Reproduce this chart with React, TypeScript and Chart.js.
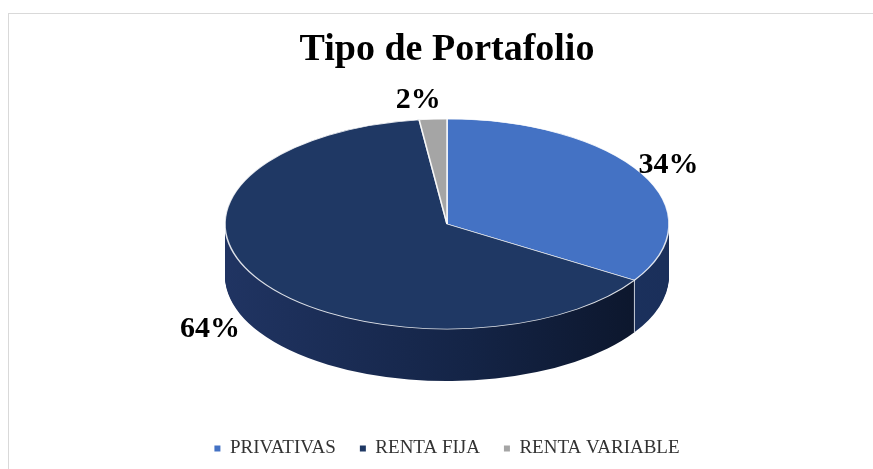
import React, { useEffect, useRef } from 'react';
import { Chart, registerables } from 'chart.js';

Chart.register(...registerables);

// ---- data ----
const categories = ['PRIVATIVAS', 'RENTA FIJA', 'RENTA VARIABLE'];
const values = [34, 64, 2];
const chartTitle = 'Tipo de Portafolio';

// ---- styles ----
const topColors = ['#4472c4', '#1f3864', '#a5a5a5'];
const sideColorStops = [
  ['#2a4880', '#1f3766', '#1a2f5a'],
  ['#203462', '#142446', '#0b1428'],
  ['#8a8a8a', '#7a7a7a', '#6a6a6a'],
];
const TILT = 0.473;
const DEPTH = 52;
const LABEL_SHIFT_X = -12;
const SERIF = "'Liberation Serif', 'DejaVu Serif', serif";

function geometry(chart: any) {
  const meta = chart.getDatasetMeta(0);
  const arcs = meta.data as any[];
  if (!arcs.length) return null;
  const cx = arcs[0].x;
  const cyMid = arcs[0].y;
  const r = arcs[0].outerRadius;
  return { arcs, cx, cyMid, r, ry: r * TILT, cyTop: cyMid - DEPTH / 2 };
}

const pie3dPlugin = {
  id: 'pie3d',
  beforeDatasetsDraw(chart: any) {
    const g = geometry(chart);
    if (!g) return;
    const { arcs, cx, cyMid, r, cyTop } = g;
    const ctx: CanvasRenderingContext2D = chart.ctx;

    const grads = sideColorStops.map((stops) => {
      const gr = ctx.createLinearGradient(cx - r, 0, cx + r, 0);
      gr.addColorStop(0, stops[0]);
      gr.addColorStop(0.55, stops[1]);
      gr.addColorStop(1, stops[2]);
      return gr;
    });

    for (let d = DEPTH; d >= 0; d--) {
      ctx.save();
      ctx.translate(cx, cyTop + d);
      ctx.scale(1, TILT);
      ctx.translate(-cx, -cyMid);
      arcs.forEach((arc, i) => {
        if (d === 0) {
          arc.draw(ctx);
        } else {
          const orig = arc.options;
          const o = Object.create(orig);
          o.backgroundColor = grads[i];
          o.borderWidth = 0;
          arc.options = o;
          arc.draw(ctx);
          arc.options = orig;
        }
      });
      ctx.restore();
    }
    return false;
  },
  afterDraw(chart: any) {
    const g = geometry(chart);
    if (!g) return;
    const { arcs, cx, r, ry, cyTop } = g;
    const ctx: CanvasRenderingContext2D = chart.ctx;

    ctx.save();
    // vertical edges on the visible front side
    ctx.strokeStyle = 'rgba(255,255,255,0.75)';
    ctx.lineWidth = 1;
    arcs.forEach((arc) => {
      const a = arc.endAngle;
      if (Math.sin(a) > 0.05) {
        const x = cx + r * Math.cos(a);
        const y = cyTop + ry * Math.sin(a);
        ctx.beginPath();
        ctx.moveTo(x, y);
        ctx.lineTo(x, y + DEPTH);
        ctx.stroke();
      }
    });

    // data labels
    const total = values.reduce((s, v) => s + v, 0);
    ctx.fillStyle = '#000000';
    ctx.font = `bold 30px ${SERIF}`;
    ctx.textAlign = 'center';
    ctx.textBaseline = 'middle';
    arcs.forEach((arc, i) => {
      const mid = (arc.startAngle + arc.endAngle) / 2;
      const c = Math.cos(mid);
      const s = Math.sin(mid);
      const f = 1.2;
      const x = cx + r * c * f + LABEL_SHIFT_X;
      let y = cyTop + ry * s * f + (s < 0 ? 2 : 0);
      if (s > 0) y += DEPTH * s * 1.35;
      const pct = Math.round((values[i] / total) * 100);
      ctx.fillText(pct + '%', x, y);
    });
    ctx.restore();
  },
};

export default function App() {
  const canvasRef = useRef<HTMLCanvasElement | null>(null);

  useEffect(() => {
    if (!canvasRef.current) return;
    const chart = new Chart(canvasRef.current, {
      type: 'pie',
      data: {
        labels: categories,
        datasets: [
          {
            data: values,
            backgroundColor: topColors,
            borderColor: 'rgba(255,255,255,0.85)',
            borderWidth: 1.6,
            radius: 222,
          } as any,
        ],
      },
      options: {
        responsive: false,
        animation: false,
        events: [],
        layout: { padding: { top: 0, bottom: 1, left: 0, right: 0 } },
        plugins: {
          title: {
            display: true,
            text: chartTitle,
            color: '#000000',
            font: { family: SERIF, size: 38, weight: 'bold' },
            padding: { top: 13, bottom: 12.4 },
          },
          legend: {
            display: true,
            position: 'bottom',
            labels: {
              color: '#333333',
              font: { family: SERIF, size: 19 },
              boxWidth: 6,
              boxHeight: 6,
              padding: 24,
              generateLabels(ch: any) {
                const base = (Chart as any).overrides.pie.plugins.legend.labels.generateLabels(ch);
                return base.map((it: any) => ({ ...it, lineWidth: 0, strokeStyle: 'rgba(0,0,0,0)' }));
              },
            },
          },
          tooltip: { enabled: false },
        },
      } as any,
      plugins: [pie3dPlugin],
    });
    return () => chart.destroy();
  }, []);

  return (
    <div
      style={{
        position: 'fixed',
        left: 0,
        top: 0,
        width: 873,
        height: 469,
        overflow: 'hidden',
        background: '#ffffff',
      }}
    >
      <div
        style={{
          position: 'absolute',
          left: 8,
          top: 13,
          width: 878,
          height: 470,
          border: '1px solid #d9d9d9',
          boxSizing: 'border-box',
          background: '#ffffff',
        }}
      >
        <canvas ref={canvasRef} width={876} height={455} style={{ display: 'block' }} />
      </div>
    </div>
  );
}
